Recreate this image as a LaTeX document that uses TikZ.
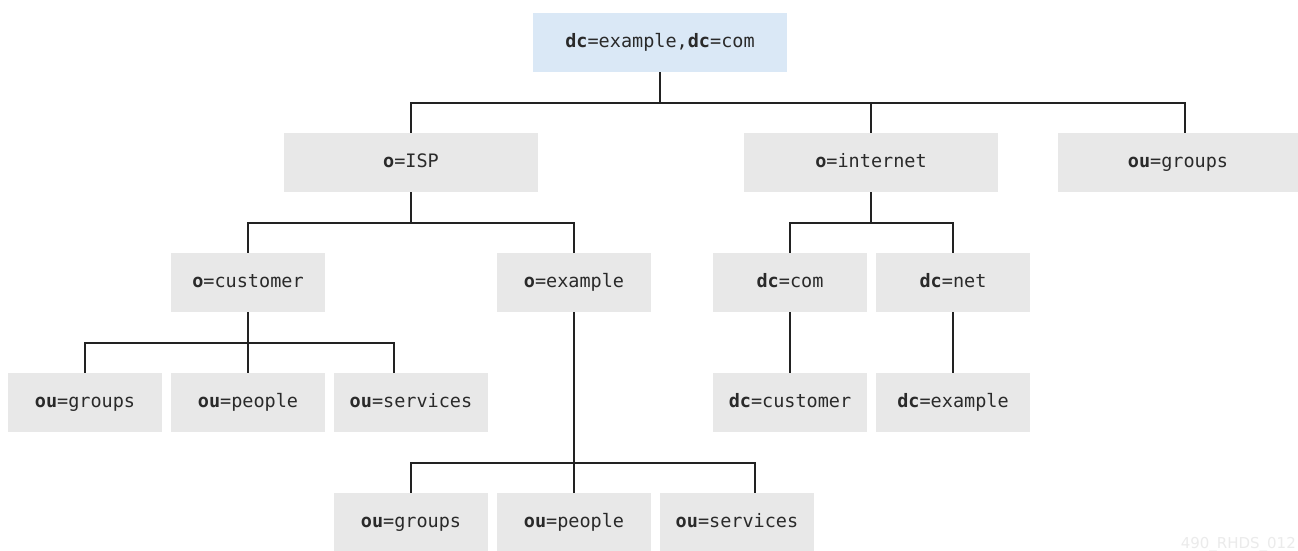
\documentclass[tikz,border=0pt]{standalone}
\usepackage{fontspec}
\setmainfont{DejaVu Sans}
\newfontfamily\monofont{DejaVu Sans Mono}
\definecolor{boxgray}{HTML}{E8E8E8}
\definecolor{boxblue}{HTML}{DAE8F6}
\definecolor{linedark}{HTML}{222222}
\definecolor{txtdark}{HTML}{2A2A2A}
\definecolor{wmark}{HTML}{EBEBEB}
\begin{document}
\begin{tikzpicture}[x=1pt,y=-1pt,
  entry/.style={fill=boxgray, draw=none, minimum width=154pt, minimum height=59pt,
    inner sep=0pt, text height=13.5pt, text depth=3.5pt,
    font=\monofont\fontsize{18.5}{21}\selectfont, text=txtdark},
  wide/.style={entry, minimum width=254pt},
  rootbox/.style={wide, fill=boxblue},
  link/.style={draw=linedark, line width=1.6pt}]
\useasboundingbox (0,0) rectangle (1298,551);
\fill[white] (0,0) rectangle (1298,551);

% nodes
\node[rootbox] (root) at (660,42.5) {\textbf{dc}=example,\textbf{dc}=com};
\node[wide] (isp) at (411,162.5) {\textbf{o}=ISP};
\node[wide] (internet) at (871,162.5) {\textbf{o}=internet};
\node[entry, minimum width=240pt] (groupsT) at (1178,162.5) {\textbf{ou}=groups};
\node[entry] (customer) at (248,282.5) {\textbf{o}=customer};
\node[entry] (example) at (574,282.5) {\textbf{o}=example};
\node[entry] (dccom) at (790,282.5) {\textbf{dc}=com};
\node[entry] (dcnet) at (953,282.5) {\textbf{dc}=net};
\node[entry] (g1) at (85,402.5) {\textbf{ou}=groups};
\node[entry] (p1) at (248,402.5) {\textbf{ou}=people};
\node[entry] (s1) at (411,402.5) {\textbf{ou}=services};
\node[entry] (dccust) at (790,402.5) {\textbf{dc}=customer};
\node[entry] (dcex) at (953,402.5) {\textbf{dc}=example};
\node[entry, minimum height=58pt] (g2) at (411,522) {\textbf{ou}=groups};
\node[entry, minimum height=58pt] (p2) at (574,522) {\textbf{ou}=people};
\node[entry, minimum height=58pt] (s2) at (737,522) {\textbf{ou}=services};

% connectors
\coordinate (jr) at (660,103);
\draw[link] (root.south) -- (jr);
\draw[link] (jr) -| (isp.north);
\draw[link] (jr) -| (internet.north);
\draw[link] (jr) -| ([xshift=7pt]groupsT.north);

\coordinate (ji) at (411,223);
\draw[link] (isp.south) -- (ji);
\draw[link] (ji) -| (customer.north);
\draw[link] (ji) -| (example.north);

\coordinate (jn) at (871,223);
\draw[link] (internet.south) -- (jn);
\draw[link] (jn) -| (dccom.north);
\draw[link] (jn) -| (dcnet.north);

\coordinate (jc) at (248,343);
\draw[link] (customer.south) -- (jc);
\draw[link] (jc) -| (g1.north);
\draw[link] (jc) -- (p1.north);
\draw[link] (jc) -| ([xshift=-17pt]s1.north);

\draw[link] (dccom.south) -- (dccust.north);
\draw[link] (dcnet.south) -- (dcex.north);

\coordinate (je) at (574,463);
\draw[link] (example.south) -- (je);
\draw[link] (je) -| (g2.north);
\draw[link] (je) -- (p2.north);
\draw[link] (je) -| ([xshift=18pt]s2.north);

% faint watermark
\node[anchor=base east, inner sep=0pt, text=wmark, font=\fontsize{15}{18}\selectfont] (wm) at (1296,548) {490\_RHDS\_012};
\end{tikzpicture}
\end{document}
